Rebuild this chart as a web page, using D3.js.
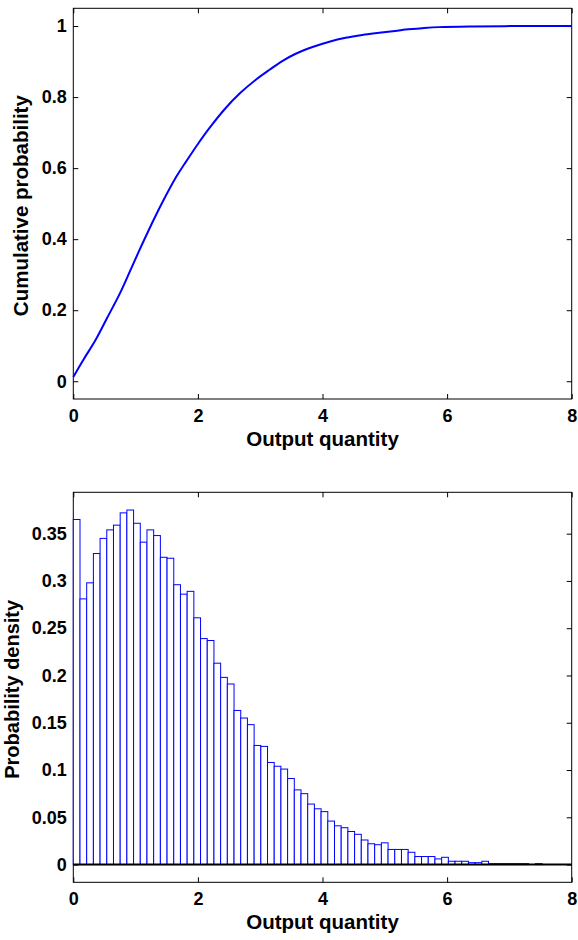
<!DOCTYPE html>
<html>
<head>
<meta charset="utf-8">
<script src="https://cdn.jsdelivr.net/npm/d3@7"></script>
<style>
  html, body { margin: 0; padding: 0; background: #fff; }
  svg { display: block; }
  text { font-family: "Liberation Sans", Arial, sans-serif; font-weight: bold; fill: #000; }
</style>
</head>
<body>
<svg id="chart" width="578" height="940"></svg>
<script>
// ---------- data ----------
const xTicks = [0, 2, 4, 6, 8];
const cdfTicks = [0, 0.2, 0.4, 0.6, 0.8, 1];
const densityTicks = [0, 0.05, 0.1, 0.15, 0.2, 0.25, 0.3, 0.35];

// Cumulative probability curve
const cdfX = [0, 0.16, 0.35, 0.53, 0.75, 0.93, 1.09, 1.25, 1.41, 1.65, 1.79, 2.0, 2.19, 2.45, 2.67,
              2.93, 3.15, 3.36, 3.57, 3.84, 4.11, 4.37, 4.64, 4.91, 5.2, 5.33, 5.6, 5.87, 6.4, 7.2, 8.0];
const cdfY = [0.012, 0.06, 0.114, 0.174, 0.248, 0.318, 0.38, 0.44, 0.497, 0.575, 0.613, 0.668, 0.714, 0.77, 0.81,
              0.849, 0.877, 0.902, 0.922, 0.941, 0.956, 0.967, 0.975, 0.981, 0.987, 0.990, 0.994, 0.997, 0.999, 1.0, 1.0];

// Histogram: 70 bins starting at 0, width ~0.1075
const histStart = 0;
const histBinWidth = 0.1075;
const histDensity = [
  0.365, 0.281, 0.298, 0.329, 0.345, 0.354, 0.359, 0.372, 0.375, 0.361,
  0.341, 0.354, 0.348, 0.325, 0.324, 0.296, 0.286, 0.289, 0.261, 0.239,
  0.237, 0.213, 0.198, 0.191, 0.163, 0.155, 0.148, 0.126, 0.125, 0.108,
  0.104, 0.101, 0.091, 0.079, 0.075, 0.064, 0.059, 0.056, 0.046, 0.041,
  0.039, 0.035, 0.032, 0.026, 0.022, 0.021, 0.023, 0.016, 0.016, 0.016,
  0.013, 0.0085, 0.0085, 0.0085, 0.006, 0.0077, 0.0035, 0.0035, 0.0035, 0.002,
  0.002, 0.0035, 0.001, 0.001, 0.001, 0.001, 0.001, 0.001, 0, 0.001
];

const xDomain = [0, 8];
const cdfDomain = [-0.05, 1.05];
const densityDomain = [-0.01875, 0.39375];

// ---------- layout ----------
const svg = d3.select("#chart");
const left = 73.3, right = 571.7;
const top1 = 8.3, bottom1 = 399;
const top2 = 492.3, bottom2 = 882.3;
const blue = "#0000ff";
const tickFont = 18;
const labelFont = 20.5;

const x1 = d3.scaleLinear().domain(xDomain).range([left, right]);
const y1 = d3.scaleLinear().domain(cdfDomain).range([bottom1, top1]);
const x2 = d3.scaleLinear().domain(xDomain).range([left, right]);
const y2 = d3.scaleLinear().domain(densityDomain).range([bottom2, top2]);

const fmt = d => (d === 0 ? "0" : d === 1 ? "1" : String(+d.toFixed(2)));

function drawAxes(x, y, yTicks, topY, botY) {
  svg.append("rect")
    .attr("x", left).attr("y", topY)
    .attr("width", right - left).attr("height", botY - topY)
    .attr("fill", "none").attr("stroke", "#000").attr("stroke-width", 1);

  const gB = svg.append("g").attr("transform", `translate(0,${botY})`)
    .call(d3.axisBottom(x).tickValues(xTicks).tickFormat(fmt).tickSizeInner(-5).tickSizeOuter(0).tickPadding(10));
  const gT = svg.append("g").attr("transform", `translate(0,${topY})`)
    .call(d3.axisTop(x).tickValues(xTicks).tickFormat("").tickSizeInner(-5).tickSizeOuter(0));
  const gL = svg.append("g").attr("transform", `translate(${left},0)`)
    .call(d3.axisLeft(y).tickValues(yTicks).tickFormat(fmt).tickSizeInner(-5).tickSizeOuter(0).tickPadding(6.5));
  const gR = svg.append("g").attr("transform", `translate(${right},0)`)
    .call(d3.axisRight(y).tickValues(yTicks).tickFormat("").tickSizeInner(-5).tickSizeOuter(0));

  [gB, gT, gL, gR].forEach(g => {
    g.select(".domain").remove();
    g.selectAll(".tick line").attr("stroke", "#000").attr("stroke-width", 1);
    g.selectAll("text").attr("font-size", tickFont).attr("font-family", "Liberation Sans, Arial, sans-serif")
      .attr("font-weight", "bold").attr("fill", "#000");
  });
}

// ---------- top panel: CDF ----------
drawAxes(x1, y1, cdfTicks, top1, bottom1);

const cdfPts = cdfX.map((d, i) => [d, cdfY[i]]);
svg.append("path")
  .datum(cdfPts)
  .attr("fill", "none")
  .attr("stroke", blue)
  .attr("stroke-width", 2)
  .attr("d", d3.line().x(d => x1(d[0])).y(d => y1(d[1])).curve(d3.curveCatmullRom.alpha(0.5)));

svg.append("text")
  .attr("x", (left + right) / 2).attr("y", 446)
  .attr("text-anchor", "middle").attr("font-size", labelFont)
  .text("Output quantity");

svg.append("text")
  .attr("transform", `translate(28,${(top1 + bottom1) / 2 + 2}) rotate(-90)`)
  .attr("text-anchor", "middle").attr("font-size", labelFont)
  .text("Cumulative probability");

// ---------- bottom panel: histogram ----------
drawAxes(x2, y2, densityTicks, top2, bottom2);

const bins = histDensity.map((v, i) => ({
  x0: histStart + i * histBinWidth,
  x1: histStart + (i + 1) * histBinWidth,
  v: v
}));

svg.append("g").selectAll("rect")
  .data(bins)
  .join("rect")
  .attr("x", d => x2(d.x0))
  .attr("y", d => y2(d.v))
  .attr("width", d => x2(d.x1) - x2(d.x0))
  .attr("height", d => y2(0) - y2(d.v))
  .attr("fill", "#fff")
  .attr("stroke", blue)
  .attr("stroke-width", 1);

svg.append("line")
  .attr("x1", x2(xDomain[0])).attr("x2", x2(xDomain[1]))
  .attr("y1", y2(0)).attr("y2", y2(0))
  .attr("stroke", "#000").attr("stroke-width", 2);

svg.append("text")
  .attr("x", (left + right) / 2).attr("y", 929)
  .attr("text-anchor", "middle").attr("font-size", labelFont)
  .text("Output quantity");

svg.append("text")
  .attr("transform", `translate(18.5,${(top2 + bottom2) / 2 + 2}) rotate(-90)`)
  .attr("text-anchor", "middle").attr("font-size", 20)
  .text("Probability density");
</script>
</body>
</html>
